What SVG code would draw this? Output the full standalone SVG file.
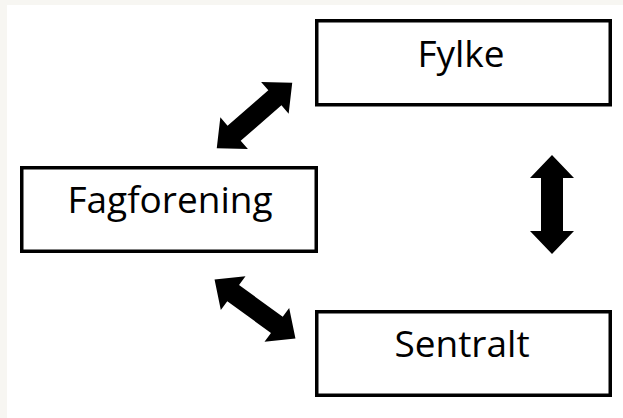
<svg xmlns="http://www.w3.org/2000/svg" width="623" height="418" viewBox="0 0 623 418">
<style>
.box{fill:#fff;stroke:#000;stroke-width:3.5}
.lbl{font-family:"Open Sans","Liberation Sans",sans-serif;font-size:37px;fill:#000;text-anchor:middle}
.arr{fill:#000}
</style>
<defs>
<path id="diag" d="M-50 0 L-27 -21 L-27 -10 L27 -10 L27 -21 L50 0 L27 21 L27 10 L-27 10 L-27 21 Z"/>
</defs>
<rect x="0" y="0" width="623" height="418" fill="#f7f6f2"/>
<rect x="7" y="5" width="616" height="413" fill="#fff"/>
<g id="fylke">
<rect class="box" x="316.75" y="20.75" width="293.5" height="84"/>
<text class="lbl" x="461" y="67">Fylke</text>
</g>
<g id="fagforening">
<rect class="box" x="21.75" y="167.75" width="294.5" height="83.5"/>
<text class="lbl" x="170" y="213">Fagforening</text>
</g>
<g id="sentralt">
<rect class="box" x="316.75" y="311.75" width="293.5" height="83.5"/>
<text class="lbl" x="462" y="357">Sentralt</text>
</g>
<g id="connectors" class="arr">
<use href="#diag" transform="translate(254.5 115.5) rotate(-41)"/>
<use href="#diag" transform="translate(255 309) rotate(36)"/>
<path d="M552 155 L574 178 L563 178 L563 231 L574 231 L552 254 L530 231 L541 231 L541 178 L530 178 Z"/>
</g>
</svg>
